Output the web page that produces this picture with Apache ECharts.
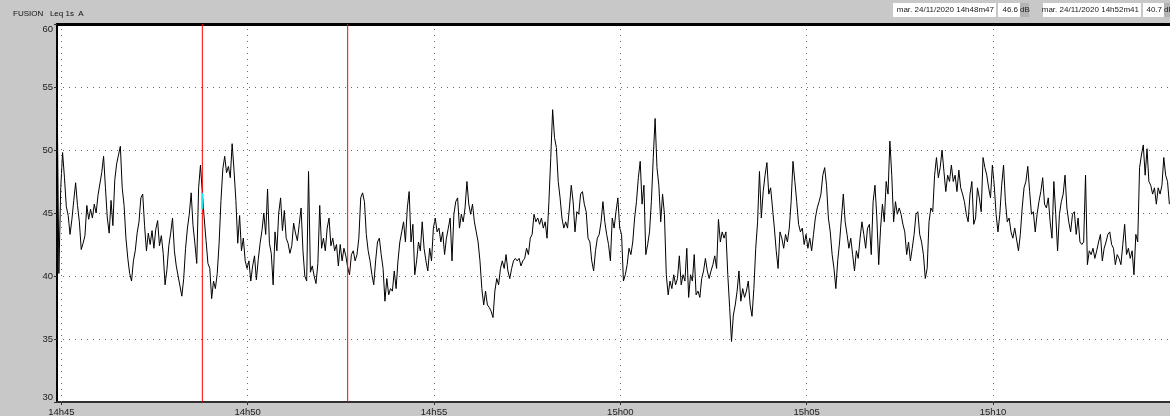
<!DOCTYPE html>
<html>
<head>
<meta charset="utf-8">
<script src="https://cdn.jsdelivr.net/npm/echarts@6/dist/echarts.min.js"></script>
<style>
  html, body { margin: 0; padding: 0; background: #c8c8c8; }
  #chart { width: 1170px; height: 416px; }
</style>
</head>
<body>
<div id="chart"></div>
<script>
// Channel header
const channelTitle = 'FUSION   Leq 1s  A';

// Axis ticks
const timeTicks = ['14h45', '14h50', '14h55', '15h00', '15h05', '15h10'];
const levelTicks = [30, 35, 40, 45, 50, 55, 60];
const axisStartStamp = '14h44m53';
const axisEndStamp = '15h14m45';

// Leq 1s (dB(A)) trace, one value every 3 s from the first stamp
const sampleStart = '14h44m53';
const sampleStep = 3;
const leqValues = [
  55.6, 40.2, 47.0, 49.8, 47.8, 45.5, 44.8, 43.3, 44.5, 46.0,
  47.4, 45.6, 44.3, 42.1, 42.6, 43.2, 45.6, 44.5, 45.3, 44.6,
  45.7, 45.0, 46.4, 47.3, 48.2, 49.5, 47.0, 44.6, 43.4, 46.0,
  44.0, 47.6, 48.9, 49.6, 50.3, 47.0, 45.6, 43.0, 41.4, 40.2,
  39.6, 41.2, 42.0, 43.4, 44.3, 46.2, 46.5, 44.0, 42.0, 43.4,
  42.5, 43.6, 42.2, 43.7, 44.4, 42.4, 43.2, 41.8, 39.3, 40.5,
  42.4, 43.4, 44.6, 42.0, 40.8, 40.0, 39.2, 38.4, 39.8, 42.2,
  43.8, 44.9, 46.6, 44.0, 42.6, 41.0, 47.0, 48.8, 46.6, 44.6,
  42.8, 41.0, 40.6, 38.2, 39.6, 39.0, 40.2, 42.6, 46.0, 48.5,
  49.5, 48.2, 48.7, 47.8, 50.5, 48.4, 46.0, 42.6, 44.8, 42.0,
  43.0, 41.2, 40.6, 41.2, 39.6, 40.8, 41.6, 39.7, 41.3, 42.6,
  43.6, 45.0, 43.3, 46.9, 42.6, 41.8, 39.3, 43.5, 42.0, 45.0,
  46.2, 43.6, 45.2, 43.0, 42.6, 41.8, 42.4, 44.2, 43.4, 42.8,
  44.1, 45.4, 42.0, 40.0, 39.6, 48.3, 40.3, 40.8, 40.0, 39.4,
  41.0, 45.6, 42.2, 43.0, 42.0, 43.8, 44.6, 42.4, 43.0, 42.0,
  42.5, 40.8,
  42.5, 41.2, 42.2, 41.6, 40.7, 40.1, 41.7, 42.0, 41.2, 41.7,
  43.0, 46.2, 46.6, 45.9, 43.3, 42.0, 41.2, 40.1, 39.3, 41.2,
  42.7, 43.0, 41.7, 40.6, 38.0, 39.8, 38.5, 39.0, 38.8, 40.4,
  39.0, 41.2, 42.7, 43.5, 44.3, 42.7, 45.4, 46.7, 42.7, 44.1,
  40.1, 41.2, 42.7, 42.0, 44.3, 42.2, 41.2, 40.4, 42.2, 41.2,
  43.8, 44.6, 43.5, 43.8, 42.7, 43.5, 41.7, 43.0, 43.8, 44.6,
  41.2, 44.9, 45.9, 46.2, 43.8, 44.9, 44.3, 45.4, 47.5, 45.7,
  44.9, 45.7, 44.3, 43.5, 42.7, 41.2, 39.0, 37.7, 38.8, 37.7,
  37.5, 37.2, 36.7, 38.8, 39.8, 39.3, 40.6, 41.2, 40.6, 41.7,
  40.4, 39.8, 40.6, 41.2, 41.4, 41.2, 41.4, 40.8, 41.2, 41.4,
  42.2, 41.7, 43.0, 43.3, 44.9, 44.3, 44.6, 44.1, 44.6, 43.8,
  44.3, 43.0, 45.9, 49.4, 53.2, 51.0, 50.2, 47.5, 46.2, 44.6,
  43.8, 44.3, 43.8, 45.4, 47.2, 45.9, 43.5, 45.1, 44.9, 46.5,
  46.7, 45.7, 45.1, 43.0, 42.7, 41.2, 40.4, 42.0, 43.0, 43.3,
  44.3, 45.9, 44.3, 43.3, 42.5, 41.2, 44.6, 43.8, 45.1, 46.2,
  43.8, 43.3, 39.6, 40.1, 40.9, 42.2, 41.7, 42.7, 44.6, 45.9,
  47.8, 49.1, 45.7, 47.2, 41.7, 42.5, 43.5, 45.9, 49.4, 52.5,
  48.6, 47.2, 44.3, 46.5, 44.9, 40.1, 38.5, 39.6, 39.0, 40.1,
  39.3, 39.8, 41.6, 39.3, 40.1, 39.6, 42.2, 38.3, 40.1, 39.6,
  41.7, 38.5, 38.8, 38.3, 39.8, 40.4, 41.4, 40.4, 39.8, 40.4,
  40.9, 41.6, 40.6, 44.5, 42.7, 43.5, 43.0, 43.5, 40.1, 37.5,
  34.8, 36.9, 37.7, 38.8, 40.4, 38.0, 39.0, 38.3, 38.8, 39.6,
  37.7, 36.8, 39.0, 42.2, 44.3, 48.3, 44.6, 46.7, 48.0, 49.0,
  46.5, 47.0, 45.4, 43.8, 42.0, 40.6, 43.5, 43.0, 42.2, 43.3,
  42.7, 43.8, 45.9, 49.1, 47.5, 45.9, 44.1, 43.5, 43.8, 42.5,
  43.3, 42.2, 43.0, 42.0, 43.3, 44.6, 45.4, 45.9, 46.5, 48.0,
  48.6, 47.2, 44.6, 43.5, 41.7, 40.6, 39.0, 41.2, 42.7, 44.6,
  46.5, 44.3, 43.3, 42.2, 43.0, 41.7, 40.4, 42.0, 41.4, 43.0,
  44.3, 43.3, 42.2, 43.8, 44.1, 41.7, 45.9, 47.2, 44.6, 40.9,
  43.8, 45.7, 44.3, 47.5, 46.5, 50.7, 48.0, 44.3, 45.9, 44.9,
  45.4, 44.9, 44.1, 43.5, 41.7, 42.7, 41.2, 42.2, 43.3, 44.9,
  45.1, 43.3, 42.7, 41.7, 39.8, 40.6, 44.3, 45.4, 45.1, 48.0,
  49.4, 47.8, 48.6, 50.0, 48.3, 46.7, 48.0, 47.5, 48.8, 47.5,
  48.0, 46.7, 48.4, 47.0, 46.5, 45.9, 44.9, 44.3, 46.5, 47.5,
  44.1, 44.6, 47.0, 46.2, 45.1, 49.4, 48.6, 48.0, 47.0, 46.2,
  48.8, 47.2, 44.9, 43.5, 44.9, 47.2, 48.8, 45.9, 44.3, 44.6,
  43.5, 43.0, 43.8, 43.8, 42.0, 43.3, 45.4, 47.0, 47.5, 48.7,
  46.7, 44.9, 45.1, 43.5, 44.9, 45.9, 46.7, 47.8, 45.7, 45.4,
  46.2, 44.3, 43.0, 47.5, 44.9, 42.0, 44.9, 45.9, 46.5, 48.0,
  45.4, 44.3, 43.5, 44.9, 45.1, 43.3, 44.6, 42.7, 42.5, 42.7,
  48.0, 40.9, 42.0, 41.7, 42.2, 41.4, 42.0, 42.7, 43.3, 41.2,
  42.2, 42.7, 43.3, 43.5, 42.5, 42.2, 40.9, 41.7, 41.4, 40.9,
  42.5, 44.1, 41.7, 42.2, 41.4, 42.0, 40.1, 43.3, 42.7, 48.6,
  49.6, 50.4, 48.0, 50.1, 47.5, 47.2, 46.5, 47.0, 45.7, 47.0,
  46.5, 47.2, 49.4, 48.0, 47.5, 45.7
];

// Cursors
const cursorStamps = ['mar. 24/11/2020 14h48m47', 'mar. 24/11/2020 14h52m41'];
const cursorLevels = [46.6, 40.7];
const selectedDrop = 45.3;

// ---- time helpers: seconds relative to 14h45 ----
const ORIGIN = 14 * 3600 + 45 * 60;
function toSec(stamp) {
  const m = stamp.match(/(\d+)h(\d+)(?:m(\d+))?/);
  return (+m[1]) * 3600 + (+m[2]) * 60 + (+(m[3] || 0)) - ORIGIN;
}
function fmtTick(v) {
  const tot = ORIGIN + Math.round(v);
  const h = Math.floor(tot / 3600);
  const mi = Math.floor((tot % 3600) / 60);
  return h + 'h' + String(mi).padStart(2, '0');
}

const t0 = toSec(sampleStart);
const xMin = toSec(axisStartStamp);
const xMax = toSec(axisEndStamp);
const yMin = levelTicks[0];
const yMax = levelTicks[levelTicks.length - 1];
const tickSecs = timeTicks.map(toSec);
const cursorSecs = cursorStamps.map(s => toSec(s.split(' ').pop()));
const trace = leqValues.map((v, i) => [t0 + i * sampleStep, v]);

const FONT = 'Liberation Sans';
const labelColor = '#202020';
const dotted = { color: '#6a6a6a', width: 1, type: [1, 5] };

const chart = echarts.init(document.getElementById('chart'), null, { renderer: 'canvas' });

const headerBoxes = [];
function headerField(x, w, text) {
  headerBoxes.push({
    type: 'rect', shape: { x: x, y: 3, width: w, height: 14 },
    style: { fill: '#ffffff' }, silent: true
  });
  headerBoxes.push({
    type: 'text', x: x + w - 2, y: 10,
    style: { text: text, fill: '#202020', font: '8px "' + FONT + '"', align: 'right', verticalAlign: 'middle' },
    silent: true
  });
}
function headerUnit(x) {
  headerBoxes.push({
    type: 'rect', shape: { x: x, y: 3, width: 9, height: 14 },
    style: { fill: '#b4b4b4' }, silent: true
  });
  headerBoxes.push({
    type: 'text', x: x, y: 10,
    style: { text: 'dB', fill: '#202020', font: '8px "' + FONT + '"', align: 'left', verticalAlign: 'middle' },
    silent: true
  });
}
headerField(893, 103, cursorStamps[0]);
headerField(998, 22, cursorLevels[0].toFixed(1));
headerUnit(1020);
headerField(1043, 98, cursorStamps[1]);
headerField(1143, 21, cursorLevels[1].toFixed(1));
headerUnit(1164);

// each cursor is a full-height vertical line at its time stamp
const cursorSeries = cursorSecs.map((t, k) => ({
  name: 'curseur ' + (k + 1), type: 'line', z: 3, silent: true,
  showSymbol: false, symbol: 'none',
  data: [[t, yMin], [t, yMax]],
  lineStyle: { color: '#ff0000', width: 1 },
  emphasis: { disabled: true }
}));

chart.setOption({
  animation: false,
  backgroundColor: '#c8c8c8',
  textStyle: { fontFamily: FONT },
  title: {
    text: channelTitle,
    left: 8, top: 5,
    textStyle: { fontSize: 8, fontWeight: 'normal', color: '#101010', fontFamily: FONT }
  },
  graphic: headerBoxes,
  grid: {
    left: 57, right: 0, top: 24, bottom: 14,
    show: true, backgroundColor: '#ffffff', borderWidth: 0,
    outerBoundsMode: 'none'
  },
  xAxis: [
    {
      type: 'value', position: 'bottom', min: xMin, max: xMax,
      axisLine: { show: true, onZero: false, lineStyle: { color: '#303030', width: 2 } },
      axisTick: { show: true, customValues: tickSecs, length: 3, lineStyle: { color: '#303030' } },
      axisLabel: {
        show: true, customValues: tickSecs, formatter: fmtTick,
        fontSize: 9.5, color: labelColor, margin: 5, fontFamily: FONT
      },
      splitLine: { show: false }
    },
    {
      type: 'value', position: 'top', min: xMin, max: xMax,
      axisLine: { show: true, onZero: false, lineStyle: { color: '#000000', width: 3 } },
      axisTick: { show: false }, axisLabel: { show: false }, splitLine: { show: false }
    }
  ],
  yAxis: {
    type: 'value', min: yMin, max: yMax, interval: 5,
    axisLine: { show: true, onZero: false, lineStyle: { color: '#000000', width: 2 } },
    axisTick: { show: true, length: 3, lineStyle: { color: '#303030' } },
    axisLabel: {
      fontSize: 9.5, color: labelColor, margin: 4, fontFamily: FONT,
      verticalAlignMaxLabel: 'top', verticalAlignMinLabel: 'bottom'
    },
    splitLine: { show: true, lineStyle: dotted }
  },
  series: [
    {
      name: 'grille', type: 'line', data: [], z: 1, silent: true,
      markLine: {
        silent: true, symbol: ['none', 'none'], label: { show: false },
        lineStyle: dotted, animation: false,
        data: tickSecs.map(t => ({ xAxis: t, lineStyle: dotted }))
      }
    },
    {
      name: 'Leq 1s A', type: 'line', data: trace, z: 2,
      showSymbol: false, symbol: 'none', sampling: false, silent: true,
      lineStyle: { color: '#000000', width: 1 }
    },
    ...cursorSeries,
    {
      name: 'sélection', type: 'line', z: 5, zlevel: 1, silent: true,
      showSymbol: false, symbol: 'none',
      data: [[cursorSecs[0], cursorLevels[0]], [cursorSecs[0], selectedDrop]],
      lineStyle: { color: '#20e0e8', width: 2 }
    }
  ]
});
</script>
</body>
</html>
